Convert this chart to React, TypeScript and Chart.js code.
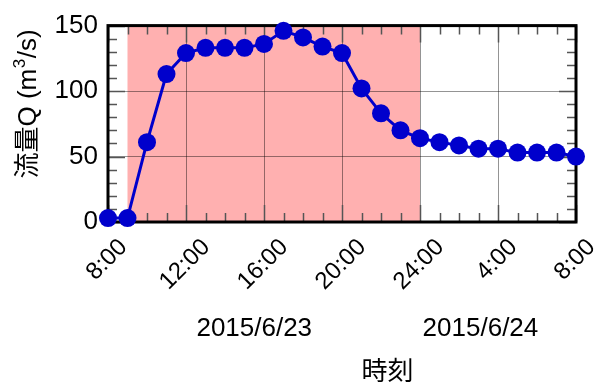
import React, { useEffect, useRef } from "react";
import { Chart, registerables } from "chart.js";

Chart.register(...registerables);

// Hours elapsed since 2015/6/23 8:00, one reading per hour
const hourOffsets = [
  0, 1, 2, 3, 4, 5, 6, 7, 8, 9, 10, 11, 12, 13, 14, 15, 16, 17, 18, 19, 20, 21, 22, 23, 24,
];
// Discharge Q (m³/s)
const flowValues = [
  3, 3, 61, 113, 129, 133, 133, 133, 136, 146, 141, 134, 129, 102, 83, 70, 64, 61, 58.5, 56, 56, 53, 53, 53, 50,
];
const xTickLabels = ["8:00", "12:00", "16:00", "20:00", "24:00", "4:00", "8:00"];
const yTickValues = [0, 50, 100, 150];
// Shaded period (hour offsets): 9:00 to 24:00
const shadedStart = 1;
const shadedEnd = 16;
const dateLabels = ["2015/6/23", "2015/6/24"];
const dateLabelHours = [7.5, 19.1];
const xTitle = "時刻";
// y title drawn in three runs so the exponent can be raised
const yTitleParts = ["流量Q (m", "3", "/s)"];

const FONT = "'Liberation Sans', Arial, 'Noto Sans CJK JP', sans-serif";
const BLUE = "#0000cc";
const PINK = "#ffb0b0";
const GRID = "rgba(0,0,0,0.42)";
const TICK = "#555";

const framePlugin = {
  id: "frameAndLabels",
  beforeDraw(chart: any) {
    const { ctx, chartArea } = chart;
    const xs = chart.scales.x;
    const x0 = xs.getPixelForValue(shadedStart);
    const x1 = xs.getPixelForValue(shadedEnd);
    ctx.save();
    ctx.fillStyle = PINK;
    ctx.fillRect(x0, chartArea.top, x1 - x0, chartArea.bottom - chartArea.top);
    ctx.restore();
  },
  beforeDatasetsDraw(chart: any) {
    const { ctx, chartArea } = chart;
    const { left, right, top, bottom } = chartArea;
    const xs = chart.scales.x;
    const ys = chart.scales.y;
    ctx.save();
    // inward tick marks
    ctx.strokeStyle = TICK;
    ctx.lineWidth = 1.5;
    ctx.beginPath();
    for (let h = 0; h <= 24; h++) {
      const x = Math.round(xs.getPixelForValue(h)) + 0.5;
      const len = h % 4 === 0 ? 17 : 9;
      ctx.moveTo(x, top);
      ctx.lineTo(x, top + len);
      ctx.moveTo(x, bottom);
      ctx.lineTo(x, bottom - len);
    }
    for (let v = 0; v <= 150; v += 10) {
      const y = Math.round(ys.getPixelForValue(v)) + 0.5;
      const len = v % 50 === 0 ? 17 : 9;
      ctx.moveTo(left, y);
      ctx.lineTo(left + len, y);
      ctx.moveTo(right, y);
      ctx.lineTo(right - len, y);
    }
    ctx.stroke();
    // plot frame
    ctx.strokeStyle = "#000";
    ctx.lineWidth = 3;
    ctx.strokeRect(left, top, right - left, bottom - top);

    // rotated time labels, centred under their ticks
    ctx.fillStyle = "#000";
    ctx.font = `24px ${FONT}`;
    ctx.textAlign = "center";
    ctx.textBaseline = "middle";
    xTickLabels.forEach((label, i) => {
      const w = ctx.measureText(label).width;
      const cx = xs.getPixelForValue(i * 4) - 1;
      const cy = bottom + 21.3 + 0.354 * w;
      ctx.save();
      ctx.translate(cx, cy);
      ctx.rotate(-Math.PI / 4);
      ctx.fillText(label, 0, 0);
      ctx.restore();
    });

    // date labels
    ctx.font = `26px ${FONT}`;
    ctx.textAlign = "center";
    dateLabels.forEach((label, i) => {
      ctx.fillText(label, xs.getPixelForValue(dateLabelHours[i]), bottom + 107);
    });

    // axis titles
    ctx.fillText(xTitle, 387.5, bottom + 151);

    ctx.save();
    ctx.translate(28.5, 104);
    ctx.rotate(-Math.PI / 2);
    ctx.textAlign = "left";
    const baseFont = `26px ${FONT}`;
    const supFont = `17px ${FONT}`;
    ctx.font = baseFont;
    const w0 = ctx.measureText(yTitleParts[0]).width;
    const w2 = ctx.measureText(yTitleParts[2]).width;
    ctx.font = supFont;
    const w1 = ctx.measureText(yTitleParts[1]).width + 1;
    let x = -(w0 + w1 + w2) / 2;
    ctx.font = baseFont;
    ctx.fillText(yTitleParts[0], x, 0);
    x += w0;
    ctx.font = supFont;
    ctx.fillText(yTitleParts[1], x + 0.5, -8);
    x += w1;
    ctx.font = baseFont;
    ctx.fillText(yTitleParts[2], x, 0);
    ctx.restore();

    ctx.restore();
  },
};

export default function App() {
  const canvasRef = useRef<HTMLCanvasElement | null>(null);

  useEffect(() => {
    document.body.style.margin = "0";
    const canvas = canvasRef.current;
    if (!canvas) return;
    const chart = new Chart(canvas, {
      type: "line",
      data: {
        datasets: [
          {
            data: hourOffsets.map((h, i) => ({ x: h, y: flowValues[i] })),
            borderColor: BLUE,
            backgroundColor: BLUE,
            borderWidth: 3,
            pointRadius: 9,
            pointBorderWidth: 0,
            pointBackgroundColor: BLUE,
            pointHoverRadius: 9,
            clip: false,
            tension: 0,
          },
        ],
      },
      options: {
        responsive: false,
        animation: false,
        devicePixelRatio: 1,
        events: [],
        layout: { padding: { top: 19, right: 33, bottom: 168, left: 0 } },
        plugins: {
          legend: { display: false },
          tooltip: { enabled: false },
        },
        scales: {
          x: {
            type: "linear",
            min: 0,
            max: 24,
            ticks: { display: false, stepSize: 4 },
            grid: { color: GRID, lineWidth: 1, drawTicks: false },
            border: { display: false },
          },
          y: {
            min: 0,
            max: 150,
            afterFit: (s: any) => {
              s.width = 108;
            },
            afterBuildTicks: (s: any) => {
              s.ticks = yTickValues.map((v) => ({ value: v }));
            },
            ticks: {
              color: "#000",
              padding: 10,
              font: { size: 26, family: FONT },
            },
            grid: { color: GRID, lineWidth: 1, drawTicks: false },
            border: { display: false },
          },
        },
      },
      plugins: [framePlugin],
    });
    return () => chart.destroy();
  }, []);

  return (
    <div style={{ width: 609, height: 390 }}>
      <canvas ref={canvasRef} width={609} height={390} />
    </div>
  );
}
